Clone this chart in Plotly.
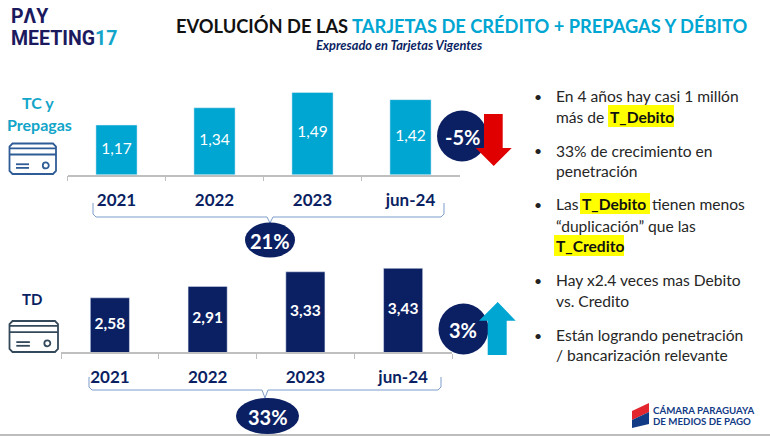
import plotly.graph_objects as go

categories = ["2021", "2022", "2023", "jun-24"]
tc_values = [1.17, 1.34, 1.49, 1.42]
td_values = [2.58, 2.91, 3.33, 3.43]

NAVY = "#0B1F63"
CYAN = "#00A6D2"
FONT = "Lato"
W, H = 770, 436
TC_BASE, TC_TOP = 0.683, 1.564
TD_BASE, TD_TOP = 1.02, 3.67

def X(x): return x / W
def Y(y): return 1 - y / H

fig = go.Figure()
fig.add_trace(go.Bar(x=categories, y=tc_values, marker_color=CYAN, width=0.42, xaxis="x", yaxis="y", hoverinfo="skip"))
fig.add_trace(go.Bar(x=categories, y=td_values, marker_color=NAVY, width=0.40, xaxis="x2", yaxis="y2", hoverinfo="skip"))
# value labels sit at the middle of the visible (truncated-axis) bar
fig.add_trace(go.Scatter(x=categories, y=[(v + TC_BASE) / 2 for v in tc_values], mode="text", xaxis="x", yaxis="y",
                         text=[f"{v:.2f}".replace(".", ",") for v in tc_values], textposition="middle center",
                         textfont=dict(color="white", size=15.5, family=FONT), hoverinfo="skip"))
fig.add_trace(go.Scatter(x=categories, y=[(v + TD_BASE) / 2 for v in td_values], mode="text", xaxis="x2", yaxis="y2",
                         text=[f"<b>{v:.2f}</b>".replace(".", ",") for v in td_values], textposition="middle center",
                         textfont=dict(color="white", size=15.5, family=FONT), hoverinfo="skip"))

shapes = []
def rect(x0, y0, x1, y1, fill, line=None, lw=0):
    shapes.append(dict(type="rect", xref="paper", yref="paper", x0=X(x0), x1=X(x1), y0=Y(y0), y1=Y(y1),
                       fillcolor=fill, line=dict(color=line or fill, width=lw), layer="below"))
def path(pts, fill=None, line=None, lw=0, close=True):
    d = "M" + " L".join(f"{X(a):.5f},{Y(b):.5f}" for a, b in pts) + (" Z" if close else "")
    shapes.append(dict(type="path", xref="paper", yref="paper", path=d, fillcolor=fill or "rgba(0,0,0,0)",
                       line=dict(color=line or "rgba(0,0,0,0)", width=lw), layer="below"))
def ellipse(cx, cy, rx, ry, fill):
    shapes.append(dict(type="circle", xref="paper", yref="paper", x0=X(cx-rx), x1=X(cx+rx), y0=Y(cy-ry), y1=Y(cy+ry),
                       fillcolor=fill, line=dict(color=fill, width=0), layer="below"))

def text(x, y, s, size=15, color="#262626", anchor="left", bold=False, italic=False, family=FONT):
    if bold: s = f"<b>{s}</b>"
    if italic: s = f"<i>{s}</i>"
    fig.add_annotation(xref="paper", yref="paper", x=X(x), y=Y(y), text=s, showarrow=False, xanchor=anchor,
                       yanchor="middle", font=dict(size=size, color=color, family=family), align=anchor, borderpad=0)

def brace(x0, x1, xm, ytop, ybot, ynotch, col="#7C9CCB"):
    c = 3
    path([(x0, ytop), (x0, ybot-c), (x0+c, ybot), (xm-3, ybot), (xm, ynotch), (xm+3, ybot), (x1-c, ybot), (x1, ybot-c), (x1, ytop)],
         line=col, lw=1, close=False)

def card(x0, y0, x1, y1, col, lw=1.8):
    r = 3
    path([(x0+r, y0), (x1-r, y0), (x1, y0+r), (x1, y1-r), (x1-r, y1), (x0+r, y1), (x0, y1-r), (x0, y0+r)], line=col, lw=lw)
    h = y1 - y0; w = x1 - x0
    path([(x0, y0+0.16*h), (x1, y0+0.16*h)], line=col, lw=lw, close=False)
    path([(x0, y0+0.36*h), (x1, y0+0.36*h)], line=col, lw=lw, close=False)
    path([(x0+0.14*w, y0+0.68*h), (x0+0.42*w, y0+0.68*h)], line=col, lw=lw, close=False)
    path([(x0+0.14*w, y0+0.8*h), (x0+0.42*w, y0+0.8*h)], line=col, lw=lw, close=False)
    cx, cy = x0+0.78*w, y0+0.72*h
    shapes.append(dict(type="circle", xref="paper", yref="paper", x0=X(cx-3), x1=X(cx+3), y0=Y(cy-3), y1=Y(cy+3),
                       line=dict(color=col, width=lw), layer="below"))

# bottom rule
rect(0, 434, 770, 436, "#BDBDBD")

# highlights
rect(608, 105, 674, 127, "#FFFF00")
rect(580, 193, 650, 214, "#FFFF00")
rect(554, 235, 624, 256, "#FFFF00")

# braces and ovals
brace(93, 444, 270, 203, 217, 223)
ellipse(270, 240, 25, 17.5, NAVY)
brace(89, 441, 265, 377, 390, 398)
ellipse(267.5, 416, 31.5, 18, NAVY)

# change circles and arrows
ellipse(462, 136, 25, 25.5, NAVY)
path([(484, 114), (502.7, 114), (502.7, 148), (511.7, 148), (493.7, 166), (475.7, 148), (484, 148)], fill="#E00000")
ellipse(463.5, 329, 25, 25.5, NAVY)
path([(497.7, 302), (515.7, 320.7), (506.7, 320.7), (506.7, 355), (487.7, 355), (487.7, 320.7), (479, 320.7)], fill=CYAN)

# icons
card(9.5, 143.5, 56, 174, "#2F5C96")
card(9.5, 321, 58, 352, "#34495A")

# footer flag
path([(632, 411), (649, 403), (649, 412), (632, 420)], fill="#E3262E")
path([(632, 420), (649, 412), (649, 424), (632, 428)], fill="#123B85")

# logo
text(10, 16, "PΛY", 19.5, "#1C1A5E", bold=True, family="Roboto")
text(10, 38, "MEETING<span style='color:#12A5C9'>17</span>", 19.5, "#1C1A5E", bold=True, family="Roboto")

# title
text(175, 26, "EVOLUCIÓN DE LAS <span style='color:#00A6D2'>TARJETAS DE CRÉDITO + PREPAGAS Y DÉBITO</span>", 18.3, "#111111", bold=True)
text(315, 45, "Expresado en Tarjetas Vigentes", 12.8, NAVY, bold=True, italic=True)

# side labels
text(38, 103, "TC y", 16, "#12A5C9", "center", bold=True)
text(39, 124, "Prepagas", 16, "#12A5C9", "center", bold=True)
text(32, 299, "TD", 15, NAVY, "center", bold=True)

# badge labels
text(270, 241, "21%", 20, "white", "center", bold=True)
text(267.5, 417, "33%", 20, "white", "center", bold=True)
text(462, 137, "-5%", 20, "white", "center", bold=True)
text(463.5, 330, "3%", 20, "white", "center", bold=True)

# bullet list
for yb in (96, 150.7, 204, 280, 335):
    text(533, yb, "•", 14, "#222222", "left")
rows = [
    (96, 555, "En 4 años hay casi 1 millón", False),
    (117, 555, "más de", False), (117, 609, "T_Debito", True),
    (150.7, 555, "33% de crecimiento en", False),
    (171, 555, "penetración", False),
    (204, 555, "Las", False), (204, 581, "T_Debito", True), (204, 651, "tienen menos", False),
    (225.6, 555, "“duplicación” que las", False),
    (246, 555, "T_Credito", True),
    (280, 555, "Hay x2.4 veces mas Debito", False),
    (301, 555, "vs. Credito", False),
    (335, 555, "Están logrando penetración", False),
    (355, 555, "/ bancarización relevante", False),
]
for y, x, s, b in rows:
    text(x, y, s, 15.6, "#111111" if b else "#262626", bold=b)

# footer text
text(652, 410, "CÁMARA PARAGUAYA", 9.7, "#123B85", bold=True)
text(652, 421, "DE MEDIOS DE PAGO", 9.7, "#123B85", bold=True)

axis_x = dict(type="category", categoryorder="array", categoryarray=categories, showline=True, linecolor="#BFBFBF",
              linewidth=1.5, ticks="outside", tickson="boundaries", ticklen=5, tickcolor="#BFBFBF", tickwidth=1,
              showgrid=False, zeroline=False, ticklabelstandoff=9,
              tickfont=dict(size=17, color=NAVY, family=FONT, weight="bold"), fixedrange=True)
axis_y = dict(visible=False, showgrid=False, zeroline=False, fixedrange=True)

fig.update_layout(
    width=W, height=H, margin=dict(l=0, r=0, t=0, b=0), autosize=False,
    paper_bgcolor="white", plot_bgcolor="white", showlegend=False, bargap=0.58,
    xaxis=dict(axis_x, domain=[X(67.5), X(459.5)], anchor="y"),
    yaxis=dict(axis_y, domain=[Y(174.5), Y(85)], range=[TC_BASE, TC_TOP], anchor="x"),
    xaxis2=dict(axis_x, domain=[X(61), X(452)], anchor="y2"),
    yaxis2=dict(axis_y, domain=[Y(352), Y(260)], range=[TD_BASE, TD_TOP], anchor="x2"),
    shapes=shapes,
)
fig.write_html("out.html", config=dict(displayModeBar=False), post_script="document.body.style.margin='0';")
